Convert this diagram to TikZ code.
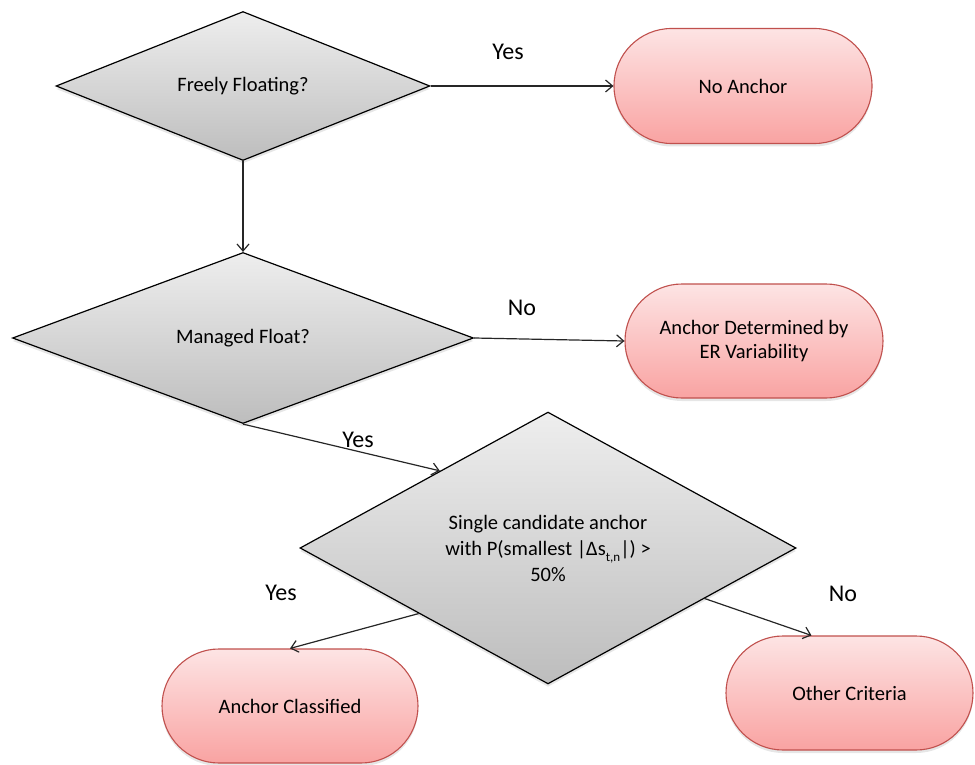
\documentclass[tikz,border=0pt]{standalone}
\usepackage{fontspec}
\setmainfont{Carlito}
\usetikzlibrary{shapes.geometric,shapes.misc,arrows.meta,calc,shadows}
\definecolor{boxborder}{HTML}{C0504D}
\definecolor{boxtop}{HTML}{FDE4E4}
\definecolor{boxbot}{HTML}{F9A3A2}
\definecolor{dtop}{HTML}{EEEEEE}
\definecolor{dbot}{HTML}{BDBDBD}
\begin{document}
\begin{tikzpicture}[x=1pt,y=-1pt,
  decision/.style={diamond, draw=black, line width=1.2pt, top color=dtop, bottom color=dbot,
    inner sep=0pt, align=center, font=\fontsize{20.5}{26}\selectfont,
    drop shadow={opacity=0.2, shadow xshift=0pt, shadow yshift=-3pt}},
  terminal/.style={rounded rectangle, draw=boxborder, line width=1.1pt, top color=boxtop, bottom color=boxbot,
    inner sep=0pt, align=center, font=\fontsize{20.5}{24}\selectfont,
    drop shadow={opacity=0.2, shadow xshift=0pt, shadow yshift=-3pt}},
  lbl/.style={font=\fontsize{24}{24}\selectfont, inner sep=0pt},
  arr/.style={draw=black!85, line width=1.2pt, -{Straight Barb[length=7pt,width=12pt,line width=1.2pt]}}]
\useasboundingbox (0,0) rectangle (975,765);

\node[decision, minimum width=374pt, minimum height=148pt] (d1) at (243,86) {Freely Floating?};
\node[decision, minimum width=461pt, minimum height=171pt] (d2) at (243,338) {Managed Float?};
\node[decision, minimum width=496pt, minimum height=202pt] (d3) at (548,548)
  {Single candidate anchor\\with P(smallest |Δs\raisebox{-0.7ex}{\fontsize{13}{13}\selectfont t,n}|) >\\50\%};

\node[terminal, minimum width=258pt, minimum height=115pt] (na) at (743,86) {No Anchor};
\node[terminal, minimum width=258pt, minimum height=114pt] (ad) at (754,341) {Anchor Determined by\\ER Variability};
\node[terminal, minimum width=256pt, minimum height=114pt] (ac) at (290,706) {Anchor Classified};
\node[terminal, minimum width=247pt, minimum height=114pt] (oc) at (849.5,693) {Other Criteria};

\draw[arr] (d1.east) -- (na.west);
\draw[arr] (d1.south) -- (d2.north);
\draw[arr] (d2.east) -- (ad.west);
\draw[arr] (d2.south) -- ($(d3.north)!0.435!(d3.west)$);
\draw[arr] ($(d3.west)!0.48!(d3.south)$) -- (ac.north);
\draw[arr] ($(d3.east)!0.37!(d3.south)$) -- ($(oc.north)+(-38,0)$);

\node[lbl] (l1) at (508,52) {Yes};
\node[lbl] (l2) at (522,308) {No};
\node[lbl] (l3) at (358,440) {Yes};
\node[lbl] (l4) at (281,593) {Yes};
\node[lbl] (l5) at (843,594) {No};
\end{tikzpicture}
\end{document}
